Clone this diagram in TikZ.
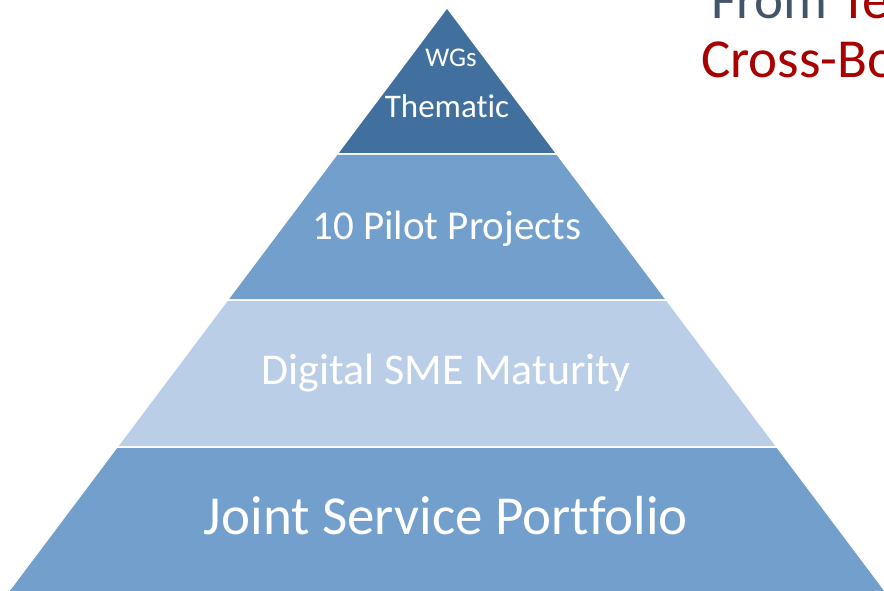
\documentclass[tikz,border=0pt]{standalone}
\usepackage{fontspec}
\setmainfont{Carlito}[Ligatures=CommonOff]
\usepackage{tikz}
\usepackage{xcolor}

\begin{document}
\begin{tikzpicture}[x=1pt, y=-1pt]
				\definecolor{WHITE}{RGB}{255, 255, 255}
				\definecolor{DARK_BLUE}{RGB}{66, 112, 158}
				\definecolor{MID_BLUE}{RGB}{115, 159, 204}
				\definecolor{PALE_BLUE}{RGB}{186, 206, 231}
				\definecolor{SLATE}{RGB}{68, 84, 106}
				\definecolor{DARK_RED}{RGB}{168, 0, 0}
				\tikzset{label/.style={text=WHITE, anchor=base, inner sep=0pt}}
				\useasboundingbox (0, 0) rectangle (884, 591);
				\clip (0, 0) rectangle (884, 591);
				\fill[WHITE] (0, 0) rectangle (884, 591);
				
				\begin{scope}
					\fill[DARK_BLUE] (447.0, 9.0) -- (555.1, 153.0) -- (338.9, 153.0) -- cycle;
				\end{scope}
				
				\begin{scope}
					\fill[MID_BLUE] (337.4, 155.0) -- (556.6, 155.0) -- (664.8, 299.0) -- (229.2, 299.0)
						-- cycle;
				\end{scope}
				
				\begin{scope}
					\fill[PALE_BLUE] (227.7, 301.0) -- (666.3, 301.0) -- (775.2, 446.0) -- (118.8, 446.0)
						-- cycle;
				\end{scope}
				
				\begin{scope}
					\fill[MID_BLUE] (117.3, 448.0) -- (776.7, 448.0) -- (884.1, 591.0) -- (9.9, 591.0)
						-- cycle;
				\end{scope}
				
				\node[label, font={\fontsize{27}{32}\selectfont}] (wgs) at (451, 67) {WGs};
				\node[label, font={\fontsize{33}{38}\selectfont}] (thematic) at (447, 118) {Thematic};
				\node[label, font={\fontsize{41}{47}\selectfont}] (pilots) at (447, 239) {10 Pilot Projects};
				\node[label, font={\fontsize{44}{50}\selectfont}] (maturity) at (446, 384) {Digital SME Maturity};
				\node[label, font={\fontsize{55}{63}\selectfont}] (portfolio) at (446, 534) {Joint Service Portfolio};
				
				\node[anchor=base west, inner sep=0pt, font={\fontsize{55}{63}\selectfont}] (titleA) at (711, 19)
					{\textcolor{SLATE}{From} \textcolor{DARK_RED}{Te}};
				\node[anchor=base west, inner sep=0pt, font={\fontsize{55}{63}\selectfont}, text=DARK_RED] (titleB)
					at (701, 78) {Cross-Bo};
			\end{tikzpicture}
\end{document}
